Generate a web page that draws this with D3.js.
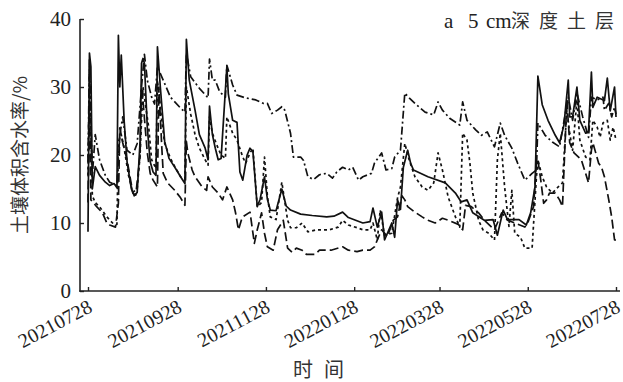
<!DOCTYPE html>
<html><head><meta charset="utf-8">
<script src="https://cdn.jsdelivr.net/npm/d3@7"></script>
<style>
html,body{margin:0;padding:0;background:#fff;}
svg{display:block;}
</style></head>
<body>
<svg id="c" width="623" height="382"></svg>
<script>
// ---- data (day offset from 2021-07-28, volumetric water content %) ----
const startDate = "2021-07-28";
const tickLabels = ["20210728","20210928","20211128","20220128","20220328","20220528","20220728"];
const yTicks = [0,10,20,30,40];

const solidDays = [0,1,2,3,5,8,12,15,18,20,21,22,23,25,27,30,32,34,36,37,38,39,41,43,45,47,48,50,53,56,60,64,67,68,70,74,77,81,83,84,86,88,90,92,96,97,100,103,105,107,110,112,114,117,119,122,124,126,130,134,137,140,147,155,165,170,176,180,190,195,197,200,203,205,210,212,214,216,218,221,223,225,235,247,254,258,262,266,271,274,280,283,287,290,298,303,306,309,311,314,318,323,326,329,332,333,335,338,340,344,346,348,349,352,357,359,361,364,365];
const solidVals = [8.7,35,33,15,18.3,17,16,15.5,15.8,15.2,37.6,30,34.7,25,19,15,14,14.5,22,33.5,34.2,33.5,24,19,17.5,17,35.9,30,22,19.5,18.2,16.8,15.8,37,31,26.6,23,21,19.3,27.2,23,21,19.3,19.5,33,29,25.1,24.8,17.5,16.3,20,21,20.5,12.4,13.5,16.8,13.5,11.9,11.8,15,12.5,11.9,11.3,11.1,10.9,11,11.6,10.8,10,10.2,12.2,9.4,11.6,7.5,10,7.9,13.4,12,18.2,20.7,18.8,17.8,16.8,15.9,14.4,13.1,13.4,11.5,10.8,10.4,10.5,8.2,11.9,10.5,10.5,9.7,11.5,15.3,31.6,27.4,25.1,22.9,21.8,24.4,31,25.6,25.6,30,25.1,23.2,23.5,32.2,27,28.5,28,31.3,26.5,30,25.6];

const dashDotDays = [0,1,3,5,8,12,15,20,22,24,27,31,34,37,39,41,44,46,48,51,57,64,67,68,71,77,83,84,86,88,91,95,96,100,103,109,116,121,124,127,131,134,136,140,142,147,149,152,156,160,165,169,172,176,180,183,187,190,196,198,203,206,210,212,216,219,222,226,233,239,242,245,250,257,259,262,268,272,276,281,285,288,293,297,302,307,310,311,316,321,326,328,332,335,338,342,346,348,352,356,357,360,362,364,365];
const dashDotVals = [19,34,17,23,19.3,17,16,15.5,23,25.6,20.7,20,21.7,30,34.8,31,28.5,27.5,33,31.5,28.5,26.9,26.3,35,31.5,29.8,28.4,34.1,31,31,29.3,28.5,33.2,30.3,28.8,28.4,28.1,27.6,27.6,26.1,26.6,27.1,26.6,23.2,19.7,19.7,19.2,16.8,16.4,17.1,17.3,16.6,17.5,18.2,17.8,18.2,16.3,16.8,17.3,18.8,20.3,17.8,18,19.7,20.7,29.1,28.4,27.6,26.3,25.9,27.8,26.6,25.4,24.4,27.8,25.1,23.7,22.9,23.4,21.2,24.7,22.9,21,18.8,16.3,17.3,17.8,24.7,22.9,21.9,21.2,23.7,28.5,25.1,29.1,25.6,22.6,28.5,28.1,28.5,26.6,27.6,25.6,27,26];

const dottedDays = [0,1,3,5,8,13,17,20,21,23,25,28,31,34,36,38,40,42,44,47,48,51,53,57,60,64,67,68,71,74,77,81,83,84,86,89,92,95,96,100,103,107,109,112,114,117,120,122,124,126,130,134,138,140,144,148,152,158,167,173,176,180,186,190,195,197,200,202,205,210,214,216,219,222,226,231,235,239,242,245,249,254,257,259,262,264,266,270,273,277,281,283,285,288,291,293,295,299,302,307,310,311,314,317,321,325,328,331,333,335,338,340,344,347,349,352,354,356,359,361,363,365];
const dottedVals = [17,33,14,13,12.4,10.9,10,9.8,22,23,21,17,14.5,15,20,30,27,24,19.3,18,31,25,21.7,19.5,18.3,16.8,16.5,30,26,23,21,19.3,18.5,25.6,23.2,21.5,20,19.5,25.6,23.2,22.2,19.7,18.8,20.3,21,12.4,13,19.7,14,10.9,10.5,16,10.4,9.3,9.3,10,8.7,9,9,9.4,10.4,9.7,9.3,9,9,10,7.5,11.9,8.2,8.5,13.7,15.3,21.7,19.3,16.8,15.3,14.8,15.9,20.3,17.8,13.8,10.9,9.4,23.2,22.2,18.8,14.4,10.4,9,8.5,7.5,19.3,23.2,15.3,9.5,14.8,8.5,7.9,6.3,6.3,16.8,19.3,16.8,15.3,14.4,15.3,15.9,26.6,23.2,20.7,28.1,22.2,19.7,19.3,25.1,24.1,22.6,24.7,25.1,22.2,24.1,22.2];

const dashedDays = [0,1,2,6,10,13,15,19,21,22,24,27,31,33,36,37,38,41,43,45,48,49,51,52,55,60,64,67,68,69,72,74,79,82,83,86,90,93,96,100,102,104,106,107,112,115,117,120,122,124,128,131,135,138,141,144,148,151,157,160,164,168,176,180,186,190,195,198,203,207,211,214,217,219,221,226,231,235,240,245,249,256,259,261,265,270,274,279,281,286,290,295,302,304,308,310,311,313,315,317,319,323,326,328,331,333,336,341,344,346,348,349,353,355,357,360,362,364,365];
const dashedVals = [13,30,13.4,12.4,11.5,10,9.7,9.4,12.9,24,21.8,19.3,14.4,14.1,20,30,28,20.3,17.3,16.3,15.3,30,21.2,17.3,15.9,14.8,13.7,12.6,22,20.3,17.8,16.8,15.3,14.8,16.8,15.3,14.4,13.4,15.3,13.4,11.5,9,10.4,10.9,11.6,7,9,11.5,8.5,6.5,6,9,10.4,6.3,5.7,6.3,6,5.4,5.4,6,6,6,6.5,6,5.8,6,6,6.5,9,8,10.4,10.9,14,13.4,12.4,11.6,10.9,10.4,10,10.7,10.4,9.8,9,12.6,12.4,11.5,10.4,9.4,9,11.5,10.4,10,9.4,10,12.4,18.8,19.3,16.3,12.9,13.4,14.4,14.4,13.4,12.4,28,21.8,20.3,19.3,17.3,15.9,20.7,21.8,18.8,18.2,16.8,13.4,10.9,7.5,7.5];

// ---- drawing ----
const svg = d3.select("#c");
const parse = d3.timeParse("%Y-%m-%d");
const t0 = parse(startDate);
const dayToDate = d => d3.timeDay.offset(t0, d);
const tickDates = tickLabels.map(s => d3.timeParse("%Y%m%d")(s));

const x = d3.scaleTime().domain([tickDates[0], tickDates[tickDates.length-1]]).range([88, 616]);
const y = d3.scaleLinear().domain([0, 40]).range([291, 19]);

const serif = "'Liberation Serif','Times New Roman',serif";
const cjk = "'Noto Sans CJK SC','Noto Sans',sans-serif";

// axes
const gx = svg.append("g").attr("transform", "translate(0,291)")
  .call(d3.axisBottom(x).tickValues(tickDates).tickFormat(d3.timeFormat("%Y%m%d")).tickSize(-4).tickSizeOuter(0));
gx.attr("font-family", serif);
gx.select(".domain").remove();
gx.selectAll(".tick line").attr("stroke", "#222").attr("stroke-width", 1.4);
gx.selectAll(".tick text")
  .attr("font-family", serif).attr("font-size", 20).attr("fill", "#222")
  .attr("text-anchor", "end").attr("dy", null).attr("y", null)
  .attr("transform", "translate(5,20) rotate(-28)");

const gy = svg.append("g").attr("transform", "translate(80,0)")
  .call(d3.axisLeft(y).tickValues(yTicks).tickSize(-4).tickSizeOuter(0).tickPadding(9));
gy.attr("font-family", serif);
gy.select(".domain").remove();
gy.selectAll(".tick line").attr("stroke", "#222").attr("stroke-width", 1.4);
gy.selectAll(".tick text").attr("font-family", serif).attr("font-size", 21).attr("fill", "#222");

svg.append("line").attr("x1", 80).attr("x2", 80).attr("y1", y(40)).attr("y2", y(0) + 0.7)
  .attr("stroke", "#222").attr("stroke-width", 1.6);
svg.append("line").attr("x1", 79.2).attr("x2", 620).attr("y1", y(0)).attr("y2", y(0))
  .attr("stroke", "#222").attr("stroke-width", 1.6);

// series
const series = [
  {days: dashedDays, vals: dashedVals, dash: "9,4"},
  {days: dottedDays, vals: dottedVals, dash: "3,3"},
  {days: dashDotDays, vals: dashDotVals, dash: "8,3,2,3"},
  {days: solidDays, vals: solidVals, dash: null}
];
const line = d3.line().x(d => x(dayToDate(d[0]))).y(d => y(d[1]));
series.forEach(s => {
  const pts = s.days.map((d, i) => [d, s.vals[i]]);
  svg.append("path").datum(pts).attr("d", line)
    .attr("fill", "none").attr("stroke", "#111").attr("stroke-width", 1.7)
    .attr("stroke-linejoin", "round")
    .attr("stroke-dasharray", s.dash);
});

// titles
svg.append("text").attr("transform", "translate(27,155) rotate(-90)")
  .attr("text-anchor", "middle").attr("font-family", cjk).attr("font-size", 19).attr("fill", "#333")
  .text("土壤体积含水率/%");
svg.append("text").attr("x", 293).attr("y", 377).attr("font-family", cjk).attr("font-size", 20).attr("fill", "#333")
  .text("时");
svg.append("text").attr("x", 324).attr("y", 377).attr("font-family", cjk).attr("font-size", 20).attr("fill", "#333")
  .text("间");

const title = svg.append("g").attr("fill", "#222");
title.append("text").attr("x", 444).attr("y", 28).attr("font-family", serif).attr("font-size", 21).text("a");
title.append("text").attr("x", 468).attr("y", 28).attr("font-family", serif).attr("font-size", 21).text("5");
title.append("text").attr("x", 486).attr("y", 28).attr("font-family", serif).attr("font-size", 21).text("cm");
["深","度","土","层"].forEach((ch, i) => {
  title.append("text").attr("x", 511 + i * 28).attr("y", 28).attr("font-family", cjk)
    .attr("font-size", 19).attr("fill", "#333").text(ch);
});
</script>
</body></html>
